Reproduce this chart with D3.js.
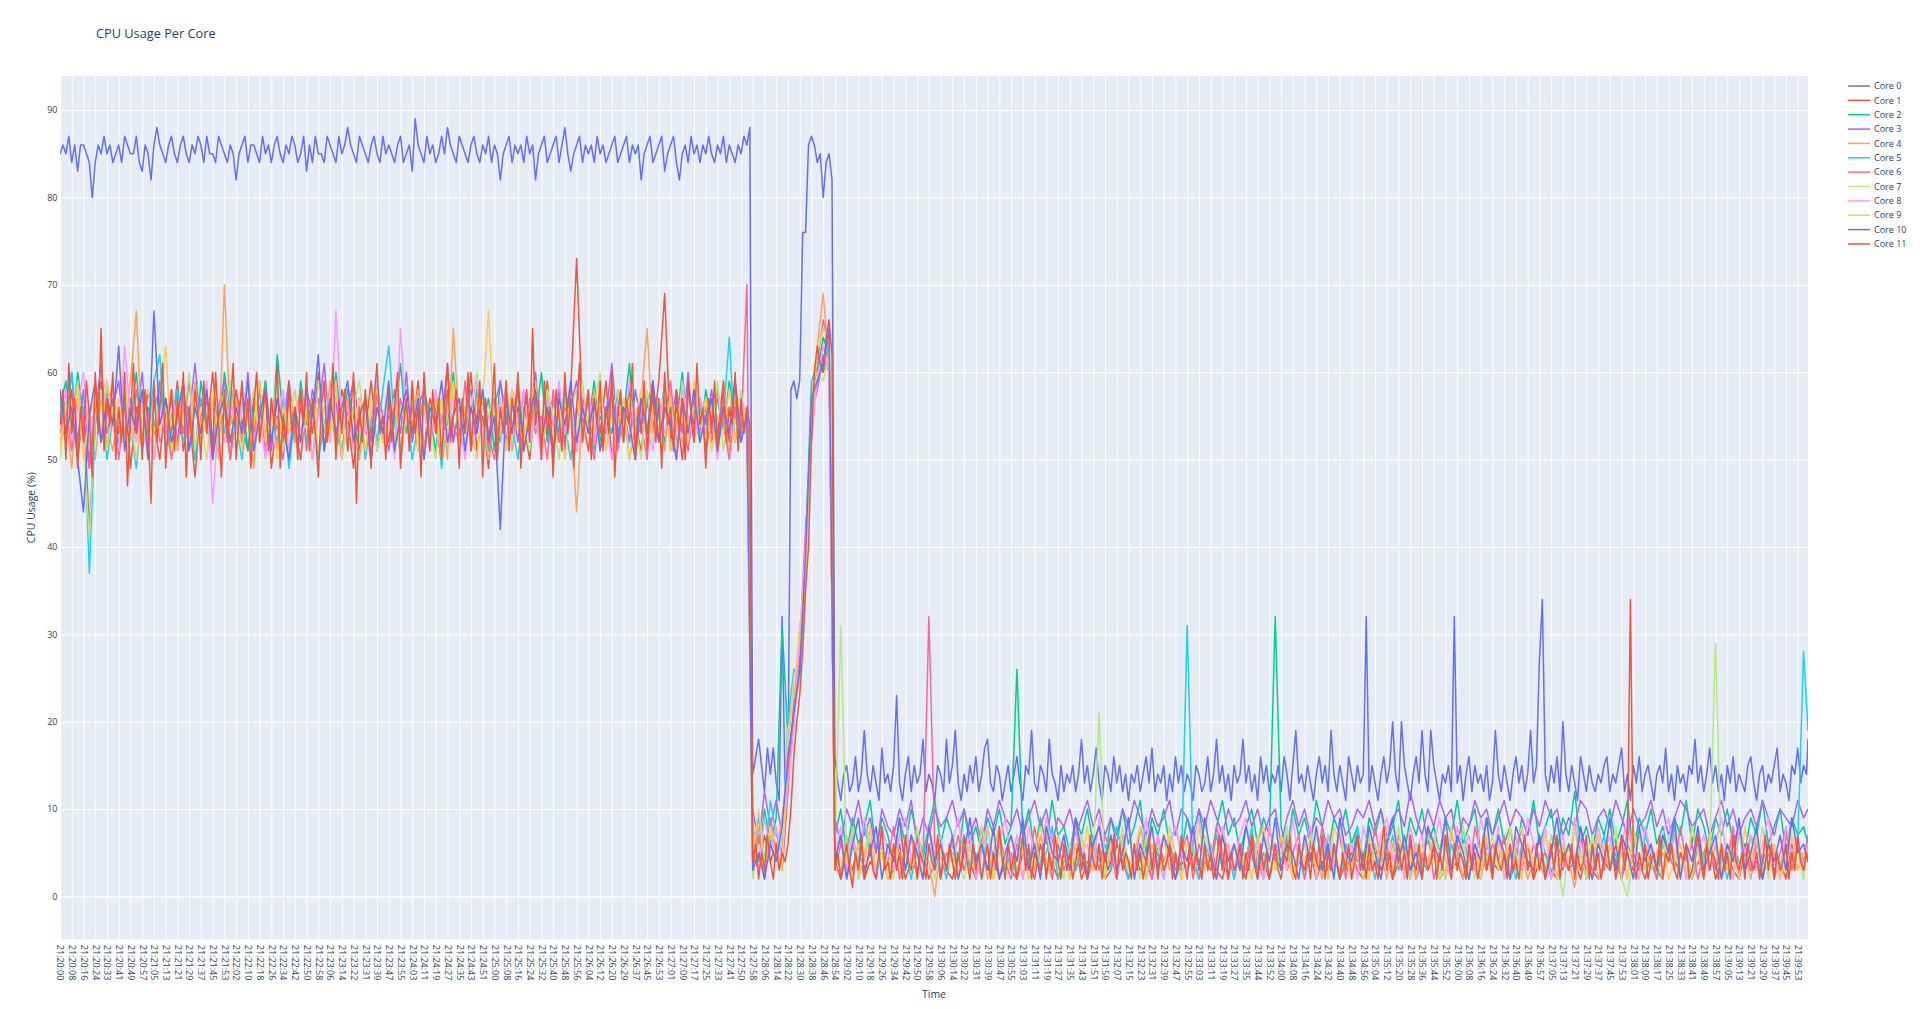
<!DOCTYPE html>
<html>
<head>
<meta charset="utf-8">
<script src="https://cdn.jsdelivr.net/npm/d3@7"></script>
<style>
  body { margin: 0; background: #ffffff; }
  svg { display: block; }
</style>
</head>
<body>
<svg id="chart" width="1920" height="1009"></svg>
<script>
// ---------------- DATA ----------------
const chartTitle = "CPU Usage Per Core";
const xTitle = "Time";
const yTitle = "CPU Usage (%)";

// x-axis tick labels (one every 8 samples)
const tickLabels = [
  "21:20:00","21:20:08","21:20:16","21:20:24","21:20:33","21:20:41","21:20:49","21:20:57",
  "21:21:05","21:21:13","21:21:21","21:21:29","21:21:37","21:21:45","21:21:53",
  "21:22:02","21:22:10","21:22:18","21:22:26","21:22:34","21:22:42","21:22:50","21:22:58",
  "21:23:06","21:23:14","21:23:22","21:23:31","21:23:39","21:23:47","21:23:55",
  "21:24:03","21:24:11","21:24:19","21:24:27","21:24:35","21:24:43","21:24:51",
  "21:25:00","21:25:08","21:25:16","21:25:24","21:25:32","21:25:40","21:25:48","21:25:56",
  "21:26:04","21:26:12","21:26:20","21:26:29","21:26:37","21:26:45","21:26:53",
  "21:27:01","21:27:09","21:27:17","21:27:25","21:27:33","21:27:41","21:27:50","21:27:58",
  "21:28:06","21:28:14","21:28:22","21:28:30","21:28:38","21:28:46","21:28:54",
  "21:29:02","21:29:10","21:29:18","21:29:26","21:29:34","21:29:42","21:29:50","21:29:58",
  "21:30:06","21:30:14","21:30:22","21:30:31","21:30:39","21:30:47","21:30:55",
  "21:31:03","21:31:11","21:31:19","21:31:27","21:31:35","21:31:43","21:31:51","21:31:59",
  "21:32:07","21:32:15","21:32:23","21:32:31","21:32:39","21:32:47","21:32:55",
  "21:33:03","21:33:11","21:33:19","21:33:27","21:33:35","21:33:44","21:33:52",
  "21:34:00","21:34:08","21:34:16","21:34:24","21:34:32","21:34:40","21:34:48","21:34:56",
  "21:35:04","21:35:12","21:35:20","21:35:28","21:35:36","21:35:44","21:35:52",
  "21:36:00","21:36:08","21:36:16","21:36:24","21:36:32","21:36:40","21:36:49","21:36:57",
  "21:37:05","21:37:13","21:37:21","21:37:29","21:37:37","21:37:45","21:37:53",
  "21:38:01","21:38:09","21:38:17","21:38:25","21:38:33","21:38:41","21:38:49","21:38:57",
  "21:39:05","21:39:13","21:39:21","21:39:29","21:39:37","21:39:45","21:39:53"
];
const samplesPerTick = 8;     // category samples between labelled ticks
const totalSamples = 1192;    // number of time samples on the category axis

const yTickValues = [0, 10, 20, 30, 40, 50, 60, 70, 80, 90];

const coreNames = ["Core 0","Core 1","Core 2","Core 3","Core 4","Core 5","Core 6","Core 7","Core 8","Core 9","Core 10","Core 11"];
// how many time samples separate consecutive values in each core's array (last value = final sample)
const coreSampleSteps = [2, 4, 4, 4, 4, 4, 4, 4, 4, 4, 4, 2];

const core0 = [
85,86,85,87,84,86,83,86,86,85, 84,80,84,86,85,87,85,86,84,85, 86,84,87,86,85,85,87,84,83,86,
85,82,86,88,86,85,84,86,87,85, 84,86,87,85,84,86,85,87,86,84, 87,85,85,84,87,86,85,84,86,85,
82,85,86,87,84,86,86,85,84,87, 85,86,84,86,87,85,84,86,85,87, 86,84,85,87,83,86,84,87,85,85,
84,87,86,85,84,87,85,86,88,86, 85,84,87,86,85,84,86,87,85,84, 87,85,86,85,84,86,87,84,85,86,
83,89,86,85,84,87,85,86,84,85, 87,85,88,86,85,84,87,86,85,84, 86,87,85,84,86,85,87,84,86,85,
82,85,86,87,84,86,85,86,84,87, 85,86,82,85,86,87,84,85,86,87, 84,86,88,85,83,85,86,87,84,86,
85,86,84,87,85,86,84,85,86,87, 84,85,86,87,84,86,85,86,82,85, 86,87,84,85,86,87,83,85,86,87,
84,82,85,86,84,87,85,86,84,86, 85,87,85,84,86,85,87,84,86,85, 84,86,85,87,86,88,
14,16,18,15,12,17,14,17,13,11,32,13,
14,58,59,57,59,76,76,86,87,86,84,85,80,84,85,82,
16,13,11,14,15,12,13,16,12,14, 19,14,12,15,13,11,17,13,14,12, 15,23,13,11,14,16,12,15,13,14,
18,12,14,13,11,15,14,12,18,13, 15,19,13,11,14,12,15,13,16,12, 14,17,18,13,12,15,14,11,13,15,
12,14,16,13,11,15,14,19,13,12, 15,14,12,18,14,13,11,15,12,14, 13,15,12,14,18,13,15,12,14,17,
13,11,15,14,12,16,13,15,12,14, 11,14,13,15,12,14,16,13,17,12, 14,13,15,11,14,12,16,13,15,12,
14,13,11,15,14,12,13,16,12,14, 18,13,15,12,14,11,15,13,14,18, 13,15,12,14,11,16,13,15,12,14,
13,15,12,16,14,11,15,19,13,14, 12,15,13,11,14,16,13,15,12,19, 14,12,15,13,11,16,14,12,15,13,
14,32,12,15,13,11,14,16,13,15, 20,14,12,20,15,13,11,14,16,13, 19,14,12,19,15,13,11,14,13,15,
12,32,13,15,11,14,16,12,15,13, 14,12,15,11,13,19,14,12,15,13, 11,14,16,13,15,12,14,19,13,15,
27,34,14,12,15,13,16,12,20,14, 12,15,13,11,16,14,12,15,13,12, 14,13,15,16,12,14,13,15,17,12,
14,11,15,13,16,12,14,15,13,11, 14,15,13,17,12,14,11,15,13,14, 12,15,14,18,13,15,12,14,17,13,
15,12,14,11,15,13,16,12,14,13, 12,15,16,13,11,14,15,12,14,13, 15,17,12,14,13,11,15,14,17,13,
15,14,18
];
const core1 = [
55,52,58,50,56,42,54,59,51,57, 53,60,49,56,52,58,54,50,57,53, 59,51,55,48,57,53,60,52,56,50,
58,54,51,57,53,59,49,55,52,58, 54,50,57,53,60,51,56,52,58,55, 49,57,53,59,51,55,52,58,50,56,
53,59,51,57,54,50,58,52,56,53, 60,51,55,49,57,53,58,52,56,54, 50,57,53,59,51,56,52,58,73,55,
51,57,53,59,50,56,52,58,54,51, 57,53,59,69,52,56,50,58,54,57, 51,55,53,59,52,56,54,55,
5,3,7,4,6,3,
12,22,28,39,56,62,60,63,
4,2,5,3,6,2,4,3,5,2, 3,6,2,4,3,5,2,4,6,3, 2,5,3,4,2,6,3,5,2,4, 3,2,5,4,2,6,3,4,2,5,
3,6,2,4,3,5,2,3,6,4, 2,5,3,4,2,6,3,5,2,4, 3,5,2,4,6,3,2,5,3,4, 2,6,3,4,2,5,3,7,2,4,
3,5,2,4,3,6,2,4,5,3, 2,4,6,3,5,2,4,3,6,2, 4,3,5,2,6,3,4,2,5,3, 2,6,4,3,5,2,4,3,6,2,
4,5,3,2,6,3,4,2,5,3, 2,4,3,6,2,5,3,4,2,5, 3,2,6,4,3,5,2,4,3,6, 2,4,5,3,2,6,3,4,2,5,
3,4,2,6,3,5,4
];
const core2 = [
56,59,53,60,55,50,57,52,58,54, 51,57,54,60,52,56,53,59,55,51, 58,53,56,50,59,54,57,52,60,55,
53,58,51,56,54,59,52,62,55,57, 52,59,54,57,50,56,53,60,54,58, 55,51,57,53,59,52,56,54,61,53,
57,52,58,55,51,57,54,60,53,56, 52,58,54,57,51,59,55,53,58,52, 56,54,60,52,57,53,58,55,51,57,
54,59,52,56,53,58,55,61,52,56, 53,58,55,52,57,54,60,53,56,52, 58,54,57,53,59,55,52,56,
8,4,10,6,9,31,
18,24,26,38,58,60,64,62,
7,10,5,9,6,8,11,5,9,7, 4,9,6,10,7,5,8,11,6,9, 7,4,10,6,8,5,9,7,10,6, 8,26,7,10,5,9,6,11,7,8,
5,9,7,10,6,8,4,9,7,10, 6,8,11,5,9,7,10,6,8,5, 9,7,10,6,4,8,11,7,9,5, 8,10,6,9,7,32,8,5,10,7,
9,6,11,8,5,9,7,10,6,8, 4,9,7,10,6,8,11,5,9,7, 10,6,8,5,9,7,11,6,8,10, 5,9,7,10,6,8,4,9,7,11,
6,8,10,5,9,7,12,6,8,5, 9,7,10,6,8,11,5,9,7,10, 6,8,5,9,7,11,6,10,8,5, 9,7,10,6,8,5,9,7,11,6,
8,10,5,9,7,8,6
];
const core3 = [
54,57,60,52,58,49,55,61,53,56, 59,52,57,54,60,51,56,58,53,57, 52,58,55,61,53,57,50,56,59,54,
57,53,60,52,56,58,51,57,54,59, 53,56,52,58,55,61,53,57,50,56, 59,54,57,52,58,55,51,57,53,60,
52,56,58,53,57,54,61,52,56,55, 58,53,57,51,56,59,54,57,52,58, 55,60,52,57,54,58,51,56,59,53,
57,52,58,55,61,53,56,52,58,54, 56,59,52,57,54,58,53,60,52,57, 54,58,52,57,55,59,53,56,
10,6,12,8,11,7,
16,20,27,41,55,58,62,60,
9,6,10,8,11,7,9,5,10,8, 7,10,8,11,6,9,7,10,8,9, 11,8,10,7,9,6,10,8,11,9, 8,10,7,9,11,8,10,6,9,8,
10,7,9,11,8,10,7,9,6,10, 8,11,9,7,10,8,9,11,7,10, 9,6,10,8,11,9,7,10,8,9, 11,8,10,7,9,10,6,9,11,8,
10,7,9,8,11,9,10,7,8,10, 9,11,8,10,7,9,10,8,12,9, 7,10,8,11,9,10,6,9,8,11, 9,10,7,9,11,8,10,9,7,10,
8,11,9,10,7,9,8,11,10,7, 9,10,8,11,9,7,10,8,9,11, 8,10,7,9,11,10,8,9,10,7, 9,11,8,10,7,9,10,8,11,9,
7,10,9,8,11,9,10
];
const core4 = [
52,55,49,58,53,56,50,57,54,51, 56,53,59,67,52,55,50,57,54,58, 51,56,53,59,52,55,57,50,70,54,
57,52,55,49,58,53,56,51,57,54, 52,58,55,50,56,53,59,51,55,57, 53,50,56,54,58,52,55,57,51,56,
54,58,51,55,53,57,50,65,54,56, 52,57,54,50,56,53,59,51,55,57, 53,56,51,58,54,52,57,55,44,56,
53,58,51,55,57,52,56,54,50,57, 65,53,56,51,58,54,52,57,55,53, 56,52,58,54,51,57,53,55,
4,8,3,7,5,9,
15,21,25,37,57,63,69,61,
5,3,7,2,6,4,8,3,5,2, 6,4,3,7,2,5,4,0,6,3, 5,2,7,4,3,6,2,5,8,3, 4,6,2,5,3,7,4,2,6,3,
5,3,7,2,4,6,3,5,2,7, 4,3,6,2,5,4,7,3,5,2, 6,4,2,5,3,7,4,6,2,5, 3,7,4,2,6,3,5,8,2,4,
6,3,5,2,7,4,3,6,2,5, 4,7,3,5,2,6,4,3,7,2, 5,4,6,2,3,7,5,2,4,6, 3,5,2,7,4,6,3,5,2,4,
7,3,5,2,6,4,1,5,3,7, 2,4,6,3,5,2,7,4,3,6, 2,5,4,7,3,6,2,4,5,3, 6,2,4,7,3,5,2,6,4,3,
5,2,7,4,6,3,5
];
const core5 = [
57,53,60,51,56,37,54,58,50,55, 52,57,54,49,56,53,59,62,51,55, 58,52,55,50,57,54,51,56,53,59,
54,50,56,53,58,51,55,52,57,49, 55,58,52,56,50,54,57,53,51,56, 53,57,50,55,52,58,63,54,51,56,
50,54,57,52,56,49,55,58,53,51, 56,53,58,51,55,52,57,54,50,56, 53,58,51,55,57,52,54,50,56,53,
57,51,55,53,58,52,56,50,54,57, 52,56,53,59,51,55,57,52,54,56, 53,57,51,55,64,52,56,54,
6,9,4,11,7,5,
20,26,25,40,59,61,60,64,
4,7,2,6,3,8,5,2,6,4, 3,7,5,2,6,4,8,3,5,2, 6,4,7,3,5,2,8,4,6,3, 5,2,7,4,6,3,5,8,2,4,
6,3,5,2,7,4,6,3,8,5, 2,6,4,7,3,5,2,6,4,3, 31,5,2,6,4,7,3,5,2,6, 4,8,3,5,2,6,4,7,3,5,
2,6,4,3,7,5,2,6,4,8, 3,5,2,6,4,7,3,5,2,6, 4,3,7,5,2,6,4,8,3,5, 2,6,4,7,3,5,2,6,4,3,
7,5,2,6,4,3,8,5,2,6, 4,7,3,5,2,6,4,3,7,5, 2,6,4,8,3,5,2,6,4,7, 3,5,2,6,4,3,7,5,2,6,
4,3,7,5,6,28,19
];
const core6 = [
53,56,51,58,54,49,57,52,55,59, 50,56,53,58,51,55,57,52,54,50, 56,53,59,51,55,57,52,54,58,50,
55,52,57,53,59,51,56,54,50,57, 53,58,51,55,57,52,54,59,50,56, 52,57,54,50,58,53,55,51,57,54,
56,51,58,53,55,50,57,54,52,59, 51,55,57,53,50,56,52,58,54,51, 57,53,55,50,58,52,56,54,51,57,
54,50,56,53,58,51,55,57,52,54, 50,57,53,55,59,52,54,51,57,53, 56,52,58,54,50,56,53,70,
3,7,2,9,5,4,
14,22,29,42,52,61,66,63,
3,6,4,8,2,5,7,3,6,4, 8,2,5,3,7,4,32,6,2,5, 4,7,3,6,2,8,5,3,7,4, 2,6,5,3,8,4,7,2,6,3,
5,8,4,2,6,3,7,5,2,6, 4,3,8,5,2,7,4,6,3,5, 7,2,6,4,3,8,5,2,6,4, 3,7,5,2,8,4,6,3,5,7,
2,6,4,8,3,5,7,2,6,4, 5,3,8,4,6,2,7,5,3,6, 4,8,2,5,7,3,6,4,2,8, 5,3,6,4,7,2,5,8,3,6,
4,2,7,5,3,6,4,8,2,5, 7,3,6,4,2,8,5,3,6,4, 2,7,5,3,8,4,6,2,5,7, 3,6,4,8,2,5,3,7,4,6,
2,5,8,3,6,4,7
];
const core7 = [
50,57,53,59,52,41,55,58,51,56, 54,59,52,57,55,50,58,53,56,52, 57,54,60,51,56,53,58,52,55,59,
51,56,54,58,52,57,53,60,51,55, 58,53,56,50,59,54,52,57,55,51, 56,59,53,57,51,55,58,52,56,54,
59,52,56,54,50,57,53,58,55,52, 56,60,51,55,58,53,57,52,59,54, 51,56,53,58,55,50,57,54,52,59,
53,56,60,51,55,58,52,57,54,50, 58,52,56,53,57,51,59,54,56,52, 57,53,59,51,56,54,58,52,
2,6,3,8,4,7,
17,25,28,38,54,60,59,62,
6,31,4,8,2,5,7,3,6,4, 2,7,5,3,8,4,6,2,5,3, 7,4,2,6,3,8,5,2,6,4, 3,7,5,2,6,4,8,3,5,2,
6,4,7,3,5,21,2,6,4,8, 3,5,2,7,4,6,3,8,5,2, 6,4,3,7,5,2,8,4,6,3, 5,2,7,4,6,3,5,8,2,4,
6,3,7,5,2,4,8,3,6,5, 2,7,4,6,3,5,8,2,4,6, 3,7,5,2,6,4,3,8,5,2, 6,4,7,3,5,2,6,8,4,3,
5,2,7,4,0,6,3,5,2,7, 4,6,3,8,2,0,5,7,3,6, 4,2,7,5,3,6,2,8,4,5, 29,3,6,2,7,4,5,3,8,2,
6,4,3,7,5,2,6
];
const core8 = [
55,58,52,56,60,51,57,53,59,54, 51,63,55,52,57,54,50,56,53,58, 54,57,51,56,53,59,45,55,52,57,
53,56,59,52,55,50,57,54,58,51, 56,53,57,50,55,58,52,67,54,56, 51,57,53,55,59,52,56,50,65,54,
57,53,56,51,58,54,52,57,55,50, 56,59,52,55,53,57,51,56,54,58, 52,55,50,57,54,59,53,56,51,55,
58,52,56,54,50,57,53,59,52,56, 54,51,57,53,56,50,58,55,52,57, 53,56,50,58,54,52,57,55,
7,3,9,5,8,4,
13,19,30,40,53,59,63,60,
5,8,3,7,4,9,6,2,8,5, 3,7,9,4,6,2,8,5,7,3, 6,9,4,7,2,5,8,3,6,9, 4,7,2,8,5,3,9,6,4,7,
2,8,5,6,3,9,4,7,2,6, 8,3,5,9,4,7,2,6,8,5, 3,7,9,4,6,2,8,5,3,7, 9,4,6,2,8,5,7,3,9,4,
6,8,2,5,7,3,9,4,6,2, 8,5,3,7,9,4,6,2,8,5, 7,3,6,9,4,2,8,5,7,3, 9,6,4,8,2,5,7,3,9,6,
4,8,2,5,7,3,9,6,4,2, 8,5,7,3,6,9,4,2,8,5, 3,7,9,4,6,2,8,5,7,3, 6,9,4,2,8,5,7,3,6,9,
4,2,8,5,7,3,6
];
const core9 = [
51,56,53,58,50,55,57,52,59,54, 57,52,55,50,56,58,53,57,63,51, 55,59,52,56,54,50,57,53,58,52,
56,51,57,54,59,52,55,50,56,53, 58,52,55,57,51,56,53,59,50,55, 53,57,51,56,58,52,54,57,50,55,
58,51,56,53,57,50,55,59,52,56, 54,50,57,67,53,56,51,58,54,52, 56,59,51,55,53,57,50,56,58,52,
55,53,59,51,56,54,57,50,55,58, 52,56,53,58,51,55,57,52,59,54, 57,51,55,53,58,52,56,54,
5,10,4,8,6,3,
19,23,31,37,56,62,65,64,
3,7,4,2,6,5,8,3,5,2, 6,4,7,3,5,2,8,4,6,3, 5,2,7,4,3,6,8,2,5,4, 7,3,6,2,5,8,4,3,7,5,
2,6,4,8,3,5,2,7,4,6, 3,5,8,2,6,4,3,7,5,2, 6,4,8,3,5,2,7,4,6,3, 5,2,6,8,4,3,7,5,2,6,
4,7,3,5,2,8,6,4,3,7, 5,2,6,4,8,3,5,7,2,4, 6,3,7,5,2,8,4,6,3,5, 2,7,4,6,3,8,5,2,6,4,
3,7,5,2,6,4,8,3,5,2, 7,4,6,3,5,2,8,4,6,3, 5,7,2,4,6,3,8,5,2,7, 4,6,3,5,2,8,4,7,3,5,
6,2,4,7,3,5,4
];
const core10 = [
58,53,56,50,44,55,59,52,57,54, 63,51,56,53,58,50,67,54,57,52, 55,59,51,56,53,58,50,55,57,52,
56,53,59,51,55,58,52,57,54,50, 56,52,58,55,62,51,57,53,56,59, 52,55,57,50,56,53,59,51,55,58,
53,57,50,56,54,59,52,55,57,51, 56,53,58,52,55,42,57,53,59,51, 55,58,52,56,50,57,54,59,52,56,
53,57,51,55,58,52,56,54,50,57, 53,59,52,56,54,50,57,53,58,52, 55,57,51,56,53,59,52,55,
3,5,2,6,4,8,
16,21,26,39,57,59,61,65,
4,7,2,6,9,3,5,8,2,6, 4,9,3,7,5,2,8,4,6,3, 7,2,5,9,4,6,3,8,2,5, 7,4,9,3,6,2,8,5,4,7,
3,9,5,2,6,8,4,7,3,5, 9,2,6,4,8,3,7,5,2,6, 4,8,3,9,5,2,7,4,6,3, 8,5,2,7,4,9,3,6,5,2,
7,4,8,3,6,2,9,5,4,7, 3,8,5,2,6,9,4,7,3,5, 2,8,6,4,9,3,7,5,2,6, 4,9,3,7,5,2,8,6,4,3,
7,2,5,9,4,6,3,8,5,2, 6,4,9,3,7,5,2,8,4,6, 3,7,5,9,2,6,4,8,3,5, 7,2,6,4,9,3,5,8,2,6,
4,7,3,9,5,6,4
];
const core11 = [
54,58,50,61,53,57,49,56,52,59, 55,48,60,53,65,51,57,54,60,50, 56,52,59,47,55,61,53,57,50,58,
54,45,59,52,56,61,49,55,58,51, 57,53,60,48,56,52,58,55,50,59, 53,57,51,60,54,48,58,52,56,61,
50,55,59,53,57,49,56,60,52,55, 58,51,57,54,61,49,55,52,59,53, 56,50,58,54,60,51,57,53,48,56,
59,52,55,61,50,57,53,58,51,55, 60,45,56,52,58,54,49,57,61,53, 55,50,58,52,56,60,49,54,57,51,
59,53,56,48,60,55,51,58,53,57, 50,56,61,52,55,58,49,57,53,60, 51,56,54,59,48,57,52,55,61,50,
56,53,59,51,57,54,60,49,55,58, 52,65,54,57,50,59,53,56,48,58, 55,51,60,53,57,49,56,61,52,55,
58,50,57,54,59,51,56,53,60,48, 55,58,52,57,54,61,50,56,53,59, 51,55,58,52,57,49,60,54,56,51,
58,53,57,50,59,55,52,61,54,56, 49,57,53,59,51,55,58,52,56,54, 60,51,57,53,56,54,
4,6,2,5,3,7,4,2,6,3,5,4,
6,10,16,20,23,28,35,40,52,60,63,61,60,64,66,62,
3,5,2,4,6,3,1,5,3,7, 2,4,6,3,2,5,8,3,4,2, 6,3,5,2,7,4,3,6,2,5, 4,2,6,4,3,7,2,5,3,6,
4,2,5,3,7,4,2,6,3,5, 2,4,6,2,5,3,8,4,2,6, 3,5,2,4,7,3,6,2,5,4, 3,6,2,5,3,7,4,2,6,3,
5,2,4,6,3,5,2,7,4,3, 6,2,5,3,4,7,2,6,3,5, 4,2,6,3,5,2,4,7,3,6, 2,5,3,4,6,2,5,3,7,4,
2,6,3,5,4,2,6,3,5,2, 4,7,3,6,2,5,3,4,6,2, 5,3,7,4,2,6,3,5,2,4, 6,3,2,5,4,7,3,2,6,4,
3,5,2,6,4,3,7,2,5,3, 6,4,2,5,3,6,2,4,7,3, 5,2,6,3,4,2,5,8,3,5, 2,4,6,3,5,2,7,4,3,6,
2,5,3,4,6,2,5,3,7,4, 2,6,3,5,4,2,6,3,5,2, 4,7,3,5,2,6,4,3,5,2, 6,3,4,2,5,7,3,4,2,6,
3,5,2,4,6,3,7,2,5,4, 3,6,2,5,3,4,7,2,6,3, 5,2,4,6,3,5,2,4,7,3, 6,34,4,2,5,3,6,2,4,5,
3,7,2,5,4,6,3,2,5,4, 6,2,3,5,7,4,2,6,3,5, 4,2,6,3,5,2,7,4,3,5, 2,6,4,3,5,2,4,7,3,6,
2,5,3,4,6,2,5,3,7,4, 3,5,4
];

const coreColors = ["#636efa","#EF553B","#00cc96","#ab63fa","#FFA15A","#19d3f3","#FF6692","#B6E880","#FF97FF","#FECB52","#636efa","#EF553B"];
const coreValues = [core0, core1, core2, core3, core4, core5, core6, core7, core8, core9, core10, core11];

// ---------------- CHART ----------------
const W = 1920, H = 1009;
const plot = { left: 60, right: 1808, top: 76, bottom: 939.3 };
const FONT = "'Open Sans', verdana, arial, sans-serif";
const TEXT = "#2a3f5f";

const svg = d3.select("#chart");
svg.append("rect").attr("width", W).attr("height", H).attr("fill", "#ffffff");

const x = d3.scaleLinear().domain([0, totalSamples - 1]).range([plot.left, plot.right]);
const y = d3.scaleLinear().domain([-4.9, 93.9]).range([plot.bottom, plot.top]);

svg.append("rect")
  .attr("x", plot.left).attr("y", plot.top)
  .attr("width", plot.right - plot.left).attr("height", plot.bottom - plot.top)
  .attr("fill", "#E5ECF6");

const tickPositions = tickLabels.map((_, k) => k * samplesPerTick);

// vertical grid
const xAxisGrid = d3.axisBottom(x).tickValues(tickPositions).tickSize(-(plot.bottom - plot.top)).tickFormat("");
const gx = svg.append("g").attr("transform", `translate(0,${plot.bottom})`).call(xAxisGrid);
gx.select(".domain").remove();
gx.selectAll("line").attr("stroke", "#ffffff").attr("stroke-width", 1);

// horizontal grid
const yAxisGrid = d3.axisLeft(y).tickValues(yTickValues).tickSize(-(plot.right - plot.left)).tickFormat("");
const gy = svg.append("g").attr("transform", `translate(${plot.left},0)`).call(yAxisGrid);
gy.select(".domain").remove();
gy.selectAll("line").attr("stroke", "#ffffff").attr("stroke-width", d => d === 0 ? 1.6 : 1);

// clip
svg.append("clipPath").attr("id", "plotClip").append("rect")
  .attr("x", plot.left).attr("y", plot.top)
  .attr("width", plot.right - plot.left).attr("height", plot.bottom - plot.top);

const gLines = svg.append("g").attr("clip-path", "url(#plotClip)");
coreValues.forEach((vals, s) => {
  const step = coreSampleSteps[s];
  const line = d3.line()
    .x((d, i) => x(Math.min(i * step, totalSamples - 1)))
    .y(d => y(d));
  gLines.append("path")
    .datum(vals)
    .attr("d", line)
    .attr("fill", "none")
    .attr("stroke", coreColors[s])
    .attr("stroke-width", 1.5)
    .attr("stroke-linejoin", "round")
    .attr("stroke-linecap", "round");
});

// y tick labels
const yAxis = d3.axisLeft(y).tickValues(yTickValues).tickSize(0).tickPadding(2.5).tickFormat(d3.format("d"));
const yl = svg.append("g").attr("transform", `translate(${plot.left},0)`).call(yAxis);
yl.select(".domain").remove();
yl.selectAll("text").attr("font-family", FONT).attr("font-size", 9).attr("fill", TEXT);

// x tick labels (rotated 90deg)
const xAxis = d3.axisBottom(x).tickValues(tickPositions).tickSize(0)
  .tickFormat((d, k) => tickLabels[k]);
const xl = svg.append("g").attr("transform", `translate(0,${plot.bottom})`).call(xAxis);
xl.select(".domain").remove();
xl.selectAll("text")
  .attr("font-family", FONT).attr("font-size", 9).attr("fill", TEXT)
  .attr("text-anchor", "start")
  .attr("x", 0).attr("y", 0).attr("dy", "0.35em")
  .attr("transform", "translate(0,5.5) rotate(90)");

// titles
svg.append("text").attr("x", 96).attr("y", 37.5)
  .attr("font-family", FONT).attr("font-size", 12.75).attr("fill", TEXT)
  .text(chartTitle);
svg.append("text").attr("x", (plot.left + plot.right) / 2).attr("y", 998)
  .attr("text-anchor", "middle")
  .attr("font-family", FONT).attr("font-size", 10.5).attr("fill", TEXT)
  .text(xTitle);
svg.append("text")
  .attr("transform", `translate(31,${(plot.top + plot.bottom) / 2}) rotate(-90)`)
  .attr("text-anchor", "middle").attr("dy", "0.35em")
  .attr("font-family", FONT).attr("font-size", 10.5).attr("fill", TEXT)
  .text(yTitle);

// legend
const legend = svg.append("g");
coreNames.forEach((name, k) => {
  const cy = 86 + k * 14.36;
  legend.append("line")
    .attr("x1", 1848).attr("x2", 1870).attr("y1", cy).attr("y2", cy)
    .attr("stroke", coreColors[k]).attr("stroke-width", 1.5);
  legend.append("text")
    .attr("x", 1874).attr("y", cy).attr("dy", "0.35em")
    .attr("font-family", FONT).attr("font-size", 9).attr("fill", TEXT)
    .text(name);
});
</script>
</body>
</html>
